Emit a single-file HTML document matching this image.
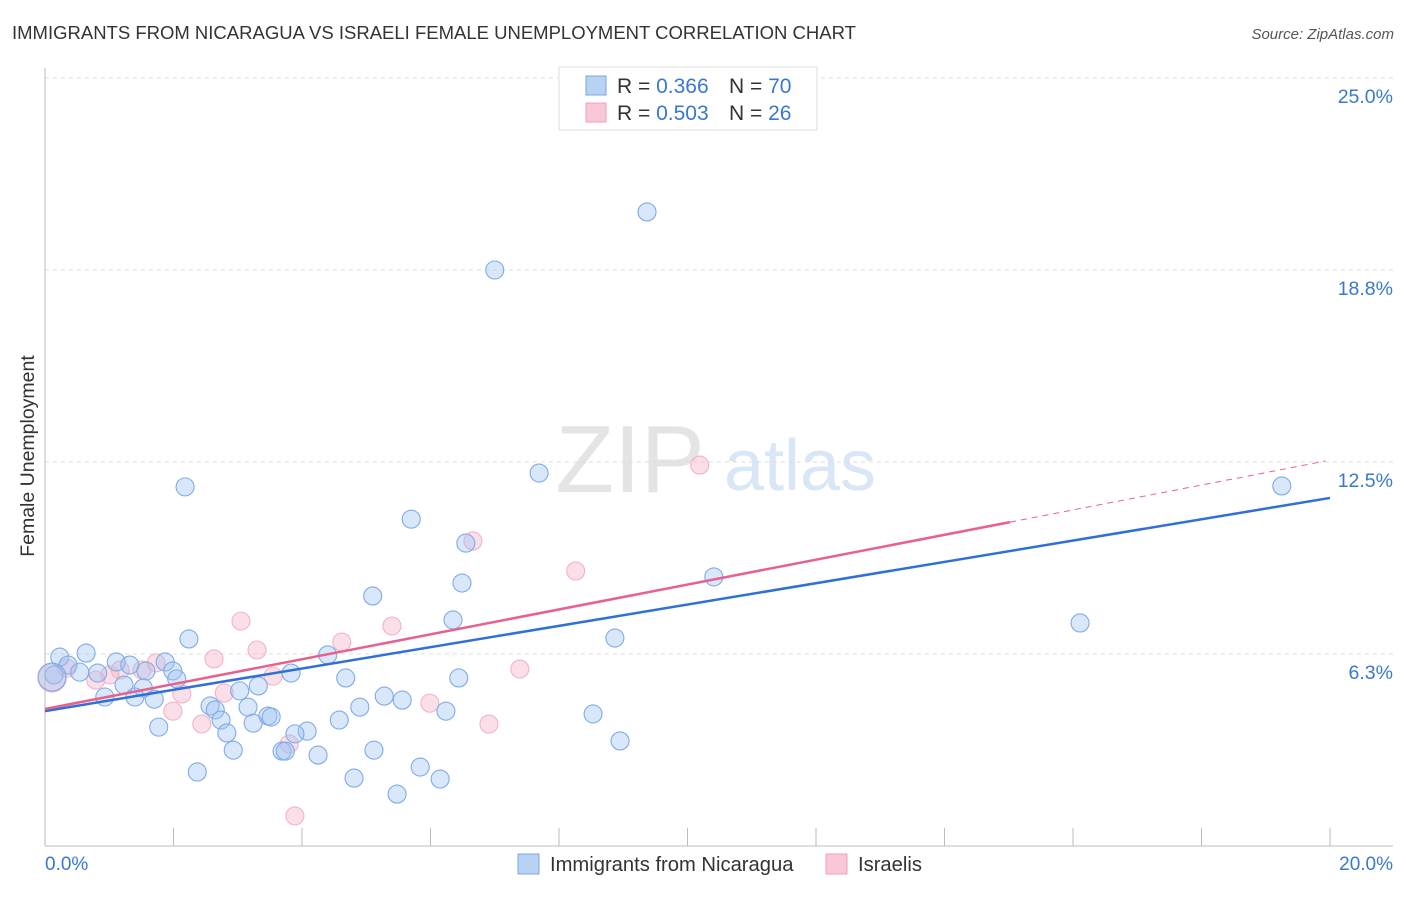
<!DOCTYPE html>
<html><head><meta charset="utf-8"><style>
body{margin:0;background:#fff;width:1406px;height:892px;overflow:hidden;font-family:"Liberation Sans",sans-serif;}
svg text{font-family:"Liberation Sans",sans-serif;}
</style></head><body>
<svg id="chart" width="1406" height="892">
<text x="12" y="39" font-size="18.5" fill="#333">IMMIGRANTS FROM NICARAGUA VS ISRAELI FEMALE UNEMPLOYMENT CORRELATION CHART</text>
<text x="1394" y="39" font-size="15" fill="#555" font-style="italic" text-anchor="end">Source: ZipAtlas.com</text>
<text x="630" y="492" font-size="96" fill="#e4e4e4" font-family="Liberation Serif" text-anchor="middle">ZIP</text>
<text x="800" y="490" font-size="72" fill="#d9e6f5" text-anchor="middle">atlas</text>
<g id="grid"></g>
<g id="axes"></g>
<text transform="translate(34,456) rotate(-90)" font-size="19.5" fill="#333" text-anchor="middle">Female Unemployment</text>
<text x="45" y="870" font-size="19" fill="#3a78d0">0.0%</text>
<text x="1393" y="870" font-size="19" fill="#3a78d0" text-anchor="end">20.0%</text>
<g id="points"></g>
<g id="lines"></g>
<g>
<rect x="559" y="67" width="258" height="63" fill="#fff" stroke="#ddd"/>
<rect x="586" y="76" width="20" height="19" fill="#b8d2f4" stroke="#7aa6e0"/>
<rect x="586" y="103" width="20" height="19" fill="#f9c8d6" stroke="#eea0b8"/>
<text x="617" y="93" font-size="21" fill="#333">R = <tspan fill="#3a78d0">0.366</tspan><tspan x="729">N = </tspan><tspan fill="#3a78d0">70</tspan></text>
<text x="617" y="120" font-size="21" fill="#333">R = <tspan fill="#3a78d0">0.503</tspan><tspan x="729">N = </tspan><tspan fill="#3a78d0">26</tspan></text>
</g>
<g>
<rect x="518" y="854" width="21" height="20" fill="#b8d2f4" stroke="#7aa6e0"/>
<text x="550" y="871" font-size="20.2" fill="#333">Immigrants from Nicaragua</text>
<rect x="826" y="854" width="21" height="20" fill="#f9c8d6" stroke="#eea0b8"/>
<text x="858" y="871" font-size="20.2" fill="#333">Israelis</text>
</g>
</svg>
<script>
const yTicks=[6.25,12.5,18.75,25];
const yTickLabels=["6.3%","12.5%","18.8%","25.0%"];
const blueX=[9.37,7.00,2.18,7.69,19.25,5.70,6.55,10.41,6.49,5.10,6.35,16.11,8.87,2.24,4.40,0.23,0.64,1.11,1.32,0.36,0.82,0.54,0.14,1.87,1.99,1.57,2.05,3.83,4.68,3.32,3.03,1.23,1.53,0.93,1.40,1.70,5.28,5.56,6.44,2.57,2.65,3.16,4.90,6.24,2.74,3.47,3.24,4.58,8.53,4.08,3.89,2.83,1.77,2.93,3.69,3.74,5.12,4.25,8.95,2.37,5.84,4.81,6.15,5.48,3.52,0.11];
const blueY=[20.64,18.75,11.69,12.14,11.72,10.64,9.86,8.76,8.56,8.14,7.36,7.26,6.77,6.74,6.22,6.15,6.28,5.99,5.89,5.89,5.63,5.66,5.57,5.99,5.70,5.70,5.44,5.63,5.47,5.21,5.05,5.24,5.14,4.85,4.85,4.78,4.88,4.75,5.47,4.56,4.43,4.52,4.52,4.39,4.10,4.23,4.00,4.10,4.30,3.74,3.65,3.68,3.87,3.12,3.09,3.09,3.12,2.96,3.42,2.41,2.57,2.21,2.18,1.69,4.20,5.50];
const pinkX=[10.19,6.66,8.26,3.05,5.40,4.62,3.30,2.63,7.39,1.73,1.51,3.55,0.79,0.34,2.13,2.79,5.99,1.99,2.44,6.91,3.80,3.89,1.17,1.01,0.11];
const pinkY=[12.40,9.93,8.95,7.32,7.16,6.64,6.38,6.09,5.76,5.96,5.73,5.53,5.40,5.79,4.95,4.98,4.65,4.39,3.97,3.97,3.32,0.98,5.73,5.57,5.47];
const blueTrend=[4.39,11.33];
const pinkTrend=[4.46,12.56];
const pinkSolidEnd=15.02;
const X=v=>45+v/20*1285, Y=v=>846-v*30.72;
const NS="http://www.w3.org/2000/svg";
function mk(tag,attrs,parent){const e=document.createElementNS(NS,tag);for(const k in attrs)e.setAttribute(k,attrs[k]);document.getElementById(parent).appendChild(e);return e;}
yTicks.forEach((t,i)=>{
 const l=mk('line',{x1:45,x2:1393,y1:Y(t),y2:Y(t),stroke:'#ddd','stroke-dasharray':'4,4'},'grid');
 
 
 const tx=mk('text',{x:1393,y:Y(t)+25,'font-size':19.5,fill:'#3a78d0','text-anchor':'end'},'grid');
 tx.textContent=yTickLabels[i];
 
 
});
const ax=mk('line',{x1:45,x2:1393,y1:846,y2:846,stroke:'#bbb'},'axes');


const ay=mk('line',{x1:45,x2:45,y1:68,y2:846,stroke:'#bbb'},'axes');


for(let i=0;i<=10;i++){const t=mk('line',{x1:X(i*2),x2:X(i*2),y1:828,y2:846,stroke:'#bbb'},'axes');
 
 }
function pts(xs,ys,fill,stroke,name){xs.forEach((v,i)=>{const big=i===xs.length-1;
 const c=mk('circle',{cx:X(v),cy:Y(ys[i]),r:big?14:9,fill:fill,stroke:stroke,'stroke-width':1.1},'points');
 
 });}
pts(pinkX,pinkY,'rgba(246,176,198,0.4)','#f3b2c6','israelis-point');
pts(blueX,blueY,'rgba(160,196,242,0.4)','#7fabe6','nicaragua-point');
const bl=mk('line',{x1:X(0),y1:Y(blueTrend[0]),x2:X(20),y2:Y(blueTrend[1]),stroke:'#2f6fd6','stroke-width':2.5},'lines');


const ps=pinkTrend[0]+(pinkTrend[1]-pinkTrend[0])*pinkSolidEnd/20;
const pl=mk('line',{x1:X(0),y1:Y(pinkTrend[0]),x2:X(pinkSolidEnd),y2:Y(ps),stroke:'#e8608c','stroke-width':2.5},'lines');


const pd=mk('line',{x1:X(pinkSolidEnd),y1:Y(ps),x2:X(19.93),y2:Y(pinkTrend[0]+(pinkTrend[1]-pinkTrend[0])*19.93/20),stroke:'#e8608c','stroke-width':1,'stroke-dasharray':'6,5'},'lines');


</script>
</body></html>
